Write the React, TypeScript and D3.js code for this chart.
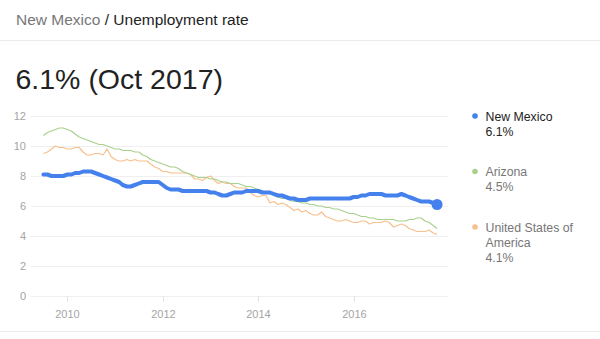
import React from "react";
import * as d3 from "d3";

const TITLE_PLACE = "New Mexico";
const TITLE_METRIC = "Unemployment rate";
const HEADLINE = "6.1% (Oct 2017)";

const START_MONTH = new Date(2009, 6, 1);
const END_MONTH = new Date(2017, 9, 1);

const newMexico = [
  8.1, 8.1, 8.0, 8.0, 8.0, 8.0,
  8.1, 8.1, 8.2, 8.2, 8.3, 8.3, 8.3, 8.2, 8.1, 8.0, 7.9, 7.8,
  7.7, 7.6, 7.4, 7.3, 7.3, 7.4, 7.5, 7.6, 7.6, 7.6, 7.6, 7.6,
  7.4, 7.2, 7.1, 7.1, 7.1, 7.0, 7.0, 7.0, 7.0, 7.0, 7.0, 7.0,
  6.9, 6.9, 6.8, 6.7, 6.7, 6.8, 6.9, 6.9, 6.9, 7.0, 7.0, 7.0,
  7.0, 6.9, 6.9, 6.9, 6.8, 6.7, 6.7, 6.6, 6.5, 6.5, 6.4, 6.4,
  6.4, 6.5, 6.5, 6.5, 6.5, 6.5, 6.5, 6.5, 6.5, 6.5, 6.5, 6.5,
  6.6, 6.6, 6.7, 6.7, 6.8, 6.8, 6.8, 6.8, 6.7, 6.7, 6.7, 6.7,
  6.8, 6.7, 6.6, 6.5, 6.4, 6.3, 6.3, 6.3, 6.2, 6.1,
];

const arizona = [
  10.7, 10.9, 11.0, 11.1, 11.2, 11.2,
  11.1, 11.0, 10.8, 10.6, 10.5, 10.4, 10.3, 10.2, 10.1, 10.1, 10.0, 9.9,
  9.8, 9.8, 9.7, 9.7, 9.7, 9.6, 9.6, 9.4, 9.3, 9.1, 9.0, 8.9,
  8.8, 8.7, 8.6, 8.6, 8.5, 8.3, 8.2, 8.1, 8.0, 7.9, 7.9, 7.9,
  7.8, 7.8, 7.7, 7.6, 7.6, 7.5, 7.5, 7.5, 7.4, 7.3, 7.3, 7.2,
  7.1, 7.0, 6.9, 6.8, 6.7, 6.6, 6.5, 6.5, 6.4, 6.3, 6.3, 6.2,
  6.2, 6.1, 6.1, 6.0, 6.0, 5.9, 5.9, 5.8, 5.8, 5.7, 5.6, 5.5,
  5.5, 5.4, 5.3, 5.3, 5.2, 5.2, 5.1, 5.1, 5.1, 5.1, 5.1, 5.0,
  5.0, 5.0, 5.1, 5.1, 5.2, 5.2, 5.0, 4.9, 4.7, 4.5,
];

const unitedStates = [
  9.5, 9.6, 9.8, 10.0, 9.9, 9.9,
  9.8, 9.8, 9.9, 9.9, 9.6, 9.4, 9.4, 9.5, 9.5, 9.4, 9.8, 9.3,
  9.1, 9.0, 9.0, 9.1, 9.0, 9.1, 9.0, 9.0, 9.0, 8.8, 8.6, 8.5,
  8.3, 8.3, 8.2, 8.2, 8.2, 8.2, 8.2, 8.1, 7.8, 7.8, 7.7, 7.9,
  8.0, 7.7, 7.5, 7.6, 7.5, 7.5, 7.3, 7.2, 7.2, 7.2, 6.9, 6.7,
  6.6, 6.7, 6.7, 6.2, 6.3, 6.1, 6.2, 6.1, 5.9, 5.7, 5.8, 5.6,
  5.7, 5.5, 5.4, 5.4, 5.6, 5.3, 5.2, 5.1, 5.0, 5.0, 5.1, 5.0,
  4.9, 4.9, 5.0, 5.0, 4.8, 4.9, 4.9, 4.9, 5.0, 4.9, 4.6, 4.7,
  4.8, 4.7, 4.5, 4.4, 4.3, 4.3, 4.3, 4.4, 4.2, 4.1,
];

const seriesNames = ["New Mexico", "Arizona", "United States of America"];
const seriesLegendLines = [["New Mexico"], ["Arizona"], ["United States of", "America"]];
const seriesLatest = ["6.1%", "4.5%", "4.1%"];
const seriesColors = ["#4581ec", "#a9d18e", "#f8c08c"];
const yTicks = [0, 2, 4, 6, 8, 10, 12];
const xTickYears = [2010, 2012, 2014, 2016];

export default function App() {
  const W = 600;
  const H = 339;
  const months = d3.timeMonth.range(START_MONTH, d3.timeMonth.offset(END_MONTH, 1));
  const x = d3
    .scaleTime()
    .domain([new Date(2010, 0, 1), new Date(2016, 0, 1)])
    .range([67.4, 353.6]);
  const y = d3.scaleLinear().domain([0, 12]).range([296, 116]);
  const gridX0 = 31;
  const gridX1 = 448;

  const line = d3
    .line<number>()
    .x((_, i) => x(months[i]))
    .y((d) => y(d))
    .curve(d3.curveLinear);

  const font = "Arial, 'Liberation Sans', Helvetica, sans-serif";

  const legendY = [120.5, 176, 231.5];
  const lastIdx = newMexico.length - 1;

  return (
    <svg
      width={W}
      height={H}
      style={{ position: "absolute", left: 0, top: 0, background: "#fff" }}
      fontFamily={font}
    >
      <rect x={0} y={0} width={W} height={H} fill="#fff" />
      <text x={16} y={25} fontSize={15.5}>
        <tspan fill="#777">{TITLE_PLACE}</tspan>
        <tspan fill="#222">{" / "}</tspan>
        <tspan fill="#222">{TITLE_METRIC}</tspan>
      </text>
      <line x1={0} x2={W} y1={40.5} y2={40.5} stroke="#ebebeb" />
      <text x={15.5} y={89} fontSize={28.5} fill="#222">
        {HEADLINE}
      </text>

      {yTicks.map((t) => (
        <g key={t}>
          <line x1={gridX0} x2={gridX1} y1={y(t) + 0.5} y2={y(t) + 0.5} stroke="#efefef" />
          <text x={26} y={y(t) + 4} fontSize={11} fill="#a4a4a4" textAnchor="end">
            {t}
          </text>
        </g>
      ))}
      {xTickYears.map((yr) => {
        const xp = Math.round(x(new Date(yr, 0, 1))) + 0.5;
        return (
          <g key={yr}>
            <line x1={xp} x2={xp} y1={296} y2={302} stroke="#e2e2e2" />
            <text x={xp} y={318} fontSize={11} fill="#a4a4a4" textAnchor="middle">
              {yr}
            </text>
          </g>
        );
      })}

      <path d={line(unitedStates) || ""} fill="none" stroke={seriesColors[2]} strokeWidth={1.2} strokeLinejoin="round" />
      <path d={line(arizona) || ""} fill="none" stroke={seriesColors[1]} strokeWidth={1.2} strokeLinejoin="round" />
      <path d={line(newMexico) || ""} fill="none" stroke={seriesColors[0]} strokeWidth={4} strokeLinejoin="round" strokeLinecap="round" />
      <circle cx={x(months[lastIdx])} cy={y(newMexico[lastIdx])} r={5.5} fill={seriesColors[0]} />

      {seriesNames.map((name, i) => {
        const lines = seriesLegendLines[i];
        const col = i === 0 ? "#222" : "#777";
        return (
          <g key={name}>
            <circle cx={475} cy={legendY[i] - 4.5} r={2.8} fill={seriesColors[i]} />
            {lines.map((l, j) => (
              <text key={j} x={485.5} y={legendY[i] + j * 15} fontSize={12.3} fill={col}>
                {l}
              </text>
            ))}
            <text x={485.5} y={legendY[i] + lines.length * 15} fontSize={12.3} fill={col}>
              {seriesLatest[i]}
            </text>
          </g>
        );
      })}

      <line x1={0} x2={W} y1={331.5} y2={331.5} stroke="#ebebeb" />
    </svg>
  );
}
